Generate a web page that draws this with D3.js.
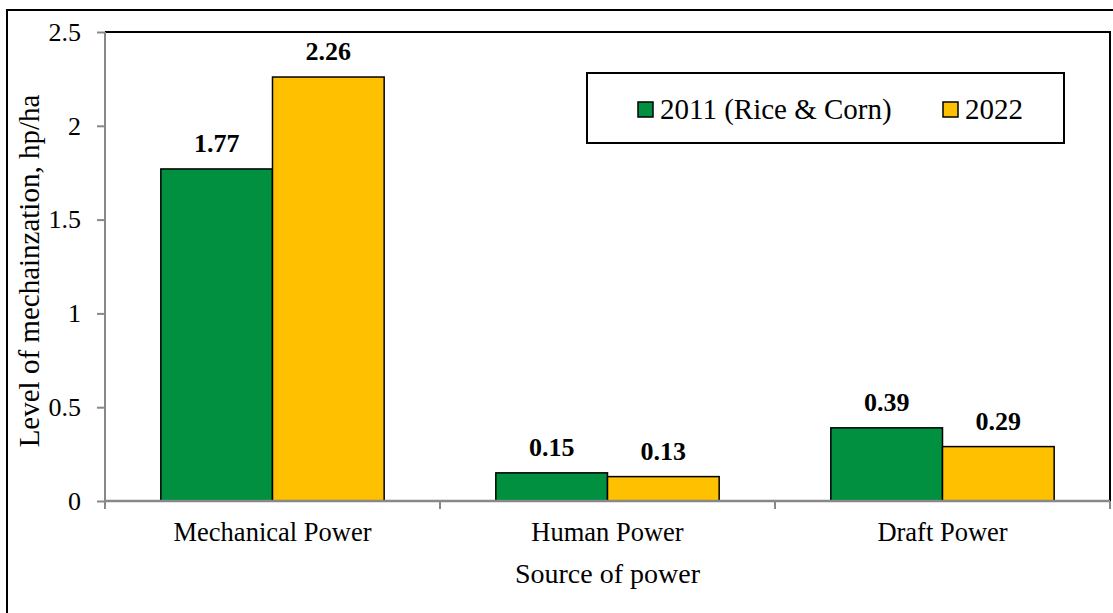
<!DOCTYPE html>
<html>
<head>
<meta charset="utf-8">
<script src="https://cdn.jsdelivr.net/npm/d3@7"></script>
<style>
  html, body { margin: 0; padding: 0; background: #fff; }
  svg { display: block; font-family: "Liberation Serif", "Times New Roman", serif; }
</style>
</head>
<body>
<svg id="chart" width="1113" height="613"></svg>
<script>
const categories = ["Mechanical Power", "Human Power", "Draft Power"];
const seriesNames = ["2011 (Rice & Corn)", "2022"];
const values2011 = [1.77, 0.15, 0.39];
const values2022 = [2.26, 0.13, 0.29];
const yTicks = [0, 0.5, 1, 1.5, 2, 2.5];
const colors = ["#00903F", "#FFC000"];

(function () {
const svg = d3.select("#chart");
const pLeft = 105, pRight = 1110, pTop = 32, pBottom = 501;

// outer border
svg.append("rect").attr("x", 7).attr("y", 10).attr("width", 1120).attr("height", 620)
  .attr("fill", "none").attr("stroke", "#000").attr("stroke-width", 2);

const x0 = d3.scaleBand().domain(categories).range([pLeft, pRight]).padding(0);
const x1 = d3.scaleBand().domain(seriesNames).range([0, x0.bandwidth()]).paddingInner(0).paddingOuter(0.5);
const y = d3.scaleLinear().domain([0, 2.5]).range([pBottom, pTop]);

// plot area top/right black lines
svg.append("path").attr("d", `M${pLeft},${pTop}H${pRight}V${pBottom}`)
  .attr("fill", "none").attr("stroke", "#000").attr("stroke-width", 2);

const data = categories.map((c, i) => ({cat: c, vals: [
  {s: seriesNames[0], v: values2011[i], k: 0},
  {s: seriesNames[1], v: values2022[i], k: 1}]}));

const g = svg.append("g");
const groups = g.selectAll("g.grp").data(data).join("g").attr("class", "grp")
  .attr("transform", d => `translate(${x0(d.cat)},0)`);
groups.selectAll("rect").data(d => d.vals).join("rect")
  .attr("x", d => x1(d.s))
  .attr("y", d => y(d.v))
  .attr("width", x1.bandwidth())
  .attr("height", d => y(0) - y(d.v))
  .attr("fill", d => colors[d.k])
  .attr("stroke", "#000").attr("stroke-width", 1.5);
groups.selectAll("text").data(d => d.vals).join("text")
  .attr("x", d => x1(d.s) + x1.bandwidth() / 2)
  .attr("y", d => y(d.v) - 17)
  .attr("text-anchor", "middle")
  .attr("font-weight", "bold").attr("font-size", 26)
  .text(d => d.v.toFixed(2));

// y axis
const yAxis = d3.axisLeft(y).tickValues(yTicks).tickSize(8).tickPadding(16)
  .tickFormat(d => d3.format("")(d));
const ya = svg.append("g").attr("transform", `translate(${pLeft},0)`).call(yAxis);
ya.selectAll("path, line").attr("stroke", "#888").attr("stroke-width", 2);
ya.select(".domain").attr("d", `M0,${pTop}V${pBottom}`);
ya.selectAll("text").attr("font-size", 26).attr("fill", "#000")
  .attr("font-family", "Liberation Serif, Times New Roman, serif");

// x axis with ticks at category boundaries
const xa = svg.append("g").attr("transform", `translate(0,${pBottom})`);
xa.append("line").attr("x1", pLeft).attr("x2", pRight).attr("stroke", "#888").attr("stroke-width", 2.5);
const bounds = categories.map(c => x0(c)).concat([pRight]);
xa.selectAll("line.tk").data(bounds).join("line").attr("class", "tk")
  .attr("x1", d => d).attr("x2", d => d).attr("y1", 0).attr("y2", 8)
  .attr("stroke", "#888").attr("stroke-width", 2);
xa.selectAll("text").data(categories).join("text")
  .attr("x", d => x0(d) + x0.bandwidth() / 2).attr("y", 40)
  .attr("text-anchor", "middle").attr("font-size", 26.5).text(d => d);

// axis titles
svg.append("text").attr("x", (pLeft + pRight) / 2).attr("y", 583)
  .attr("text-anchor", "middle").attr("font-size", 28).text("Source of power");
svg.append("text").attr("transform", `translate(39,${(87 + 455) / 2}) rotate(-90)`)
  .attr("text-anchor", "middle").attr("font-size", 29).text("Level of mechainzation, hp/ha");

// legend
const lg = svg.append("g");
lg.append("rect").attr("x", 587).attr("y", 73).attr("width", 477).attr("height", 70)
  .attr("fill", "#fff").attr("stroke", "#000").attr("stroke-width", 2);
const legX = [638, 943];
seriesNames.forEach((s, i) => {
  lg.append("rect").attr("x", legX[i]).attr("y", 102).attr("width", 15).attr("height", 15)
    .attr("fill", colors[i]).attr("stroke", "#000").attr("stroke-width", 1.5);
  lg.append("text").attr("x", legX[i] + 22).attr("y", 119).attr("font-size", 29).text(s);
});
})();
</script>
</body>
</html>
